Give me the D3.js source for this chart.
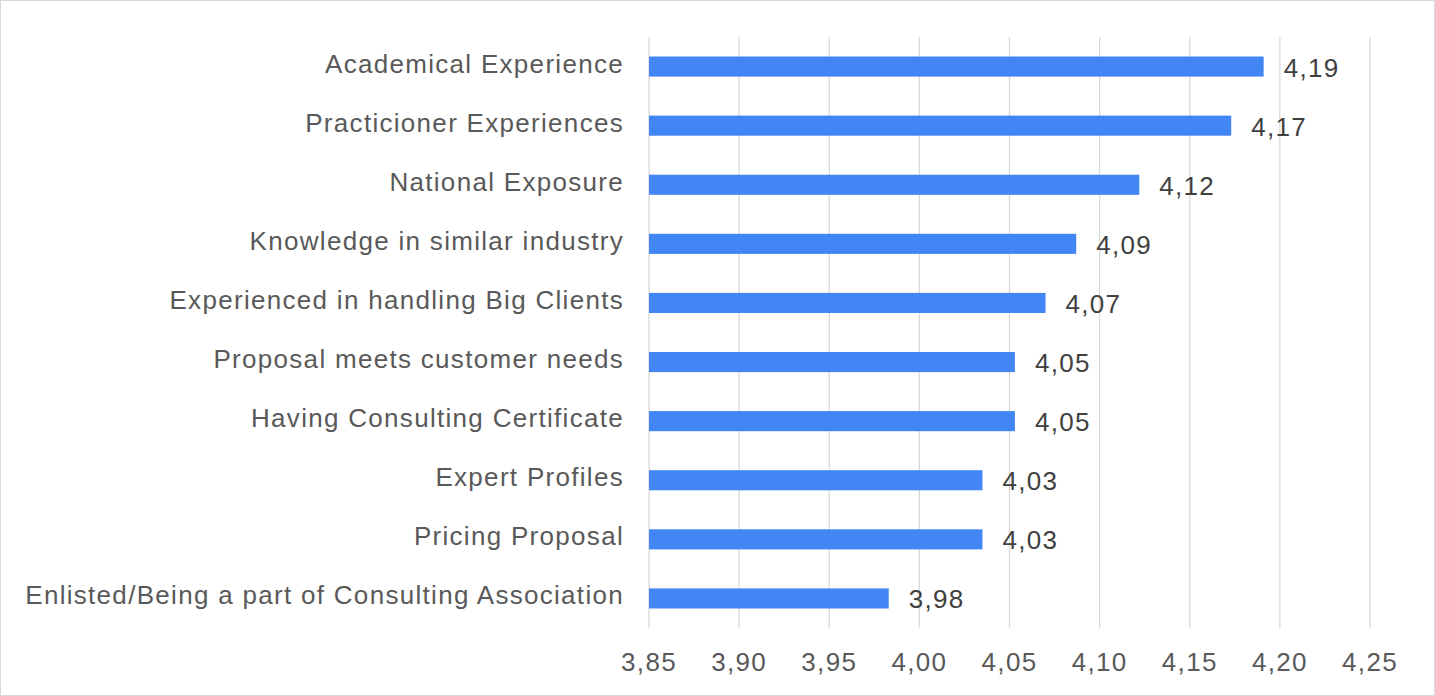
<!DOCTYPE html>
<html><head><meta charset="utf-8">
<script src="https://cdn.jsdelivr.net/npm/d3@7/dist/d3.min.js"></script>
<style>body{margin:0;background:#fff}svg{display:block;font-family:"Liberation Sans",Arial,sans-serif}text{letter-spacing:1.3px}</style>
</head><body><svg width="1435" height="696"></svg>
<script>
// chart data
const categories = ['Academical Experience','Practicioner Experiences','National Exposure','Knowledge in similar industry','Experienced in handling Big Clients','Proposal meets customer needs','Having Consulting Certificate','Expert Profiles','Pricing Proposal','Enlisted/Being a part of Consulting Association'];
const values = [4.191,4.173,4.122,4.087,4.070,4.053,4.053,4.035,4.035,3.983];
const valueLabels = ['4,19','4,17','4,12','4,09','4,07','4,05','4,05','4,03','4,03','3,98'];
const ticks = [3.85,3.90,3.95,4.00,4.05,4.10,4.15,4.20,4.25];

var svg = d3.select('svg');
svg.append('rect').attr('x',0.5).attr('y',0.5).attr('width',1434).attr('height',695)
  .attr('fill','none').attr('stroke','#d9d9d9');

var x = d3.scaleLinear().domain([3.85,4.25]).range([649,1370]);
var y = d3.scaleBand().domain(categories).range([37,628]).paddingInner(0.66).paddingOuter(0.33);

// gridlines
svg.append('g').selectAll('line').data(ticks).join('line')
  .attr('x1',d => x(d)).attr('x2',d => x(d)).attr('y1',37).attr('y2',628)
  .attr('stroke','#d9d9d9').attr('stroke-width',1.3);

// tick labels
svg.append('g').selectAll('text').data(ticks).join('text')
  .attr('x',d => x(d)).attr('y',671).attr('text-anchor','middle')
  .attr('font-size',26).attr('fill','#595959')
  .text(d => d3.format('.2f')(d).replace('.',','));

// bars
svg.append('g').selectAll('rect').data(values).join('rect')
  .attr('x',x(3.85)).attr('y',(d,i) => y(categories[i]))
  .attr('width',d => x(d) - x(3.85)).attr('height',y.bandwidth())
  .attr('fill','#4285f4');

// value labels
svg.append('g').selectAll('text').data(values).join('text')
  .attr('x',d => x(d) + 20).attr('y',(d,i) => y(categories[i]) + y.bandwidth()/2 + 10)
  .attr('font-size',26).attr('fill','#404040')
  .text((d,i) => valueLabels[i]);

// category labels
svg.append('g').selectAll('text').data(categories).join('text')
  .attr('x',624).attr('y',d => y(d) + y.bandwidth()/2 + 6)
  .attr('text-anchor','end').attr('font-size',26).attr('fill','#595959')
  .text(d => d);
</script></body></html>
